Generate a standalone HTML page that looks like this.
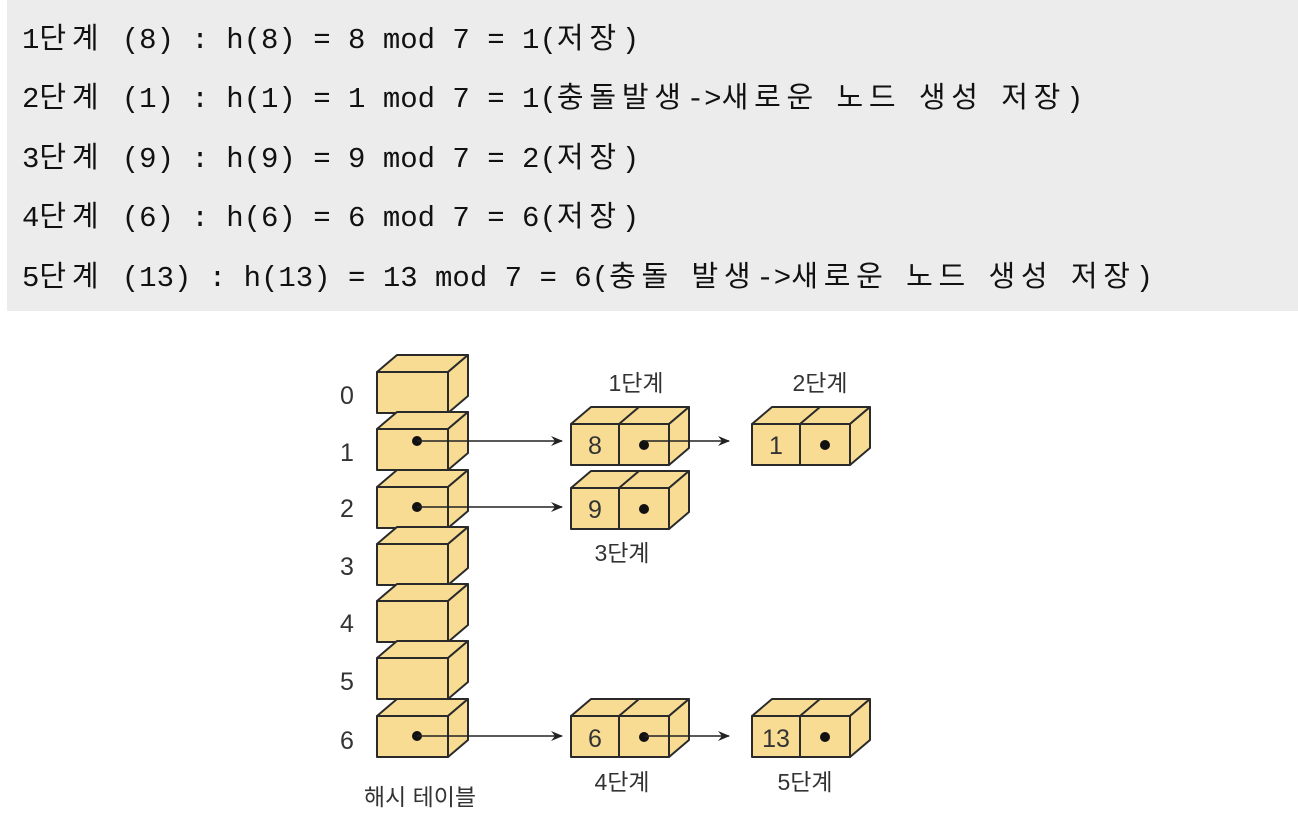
<!DOCTYPE html>
<html><head><meta charset="utf-8"><style>
body{margin:0;width:1298px;height:824px;background:#fff;overflow:hidden;position:relative}
.bg{position:absolute;left:7px;top:0;width:1291px;height:311px;background:#ececec}
.ln{position:absolute;left:22px;font-family:"Liberation Mono","Noto Sans CJK KR",monospace;font-size:29px;color:#111;white-space:pre;line-height:1}
.k{letter-spacing:5.8px;font-family:"Noto Sans CJK KR",sans-serif}
svg{position:absolute;left:0;top:0}
</style></head><body>
<div class="bg"></div>
<div class="ln" style="top:22px">1<span class="k">단계</span> (8) : h(8) = 8 mod 7 = 1(<span class="k">저장</span>)</div>
<div class="ln" style="top:81px">2<span class="k">단계</span> (1) : h(1) = 1 mod 7 = 1(<span class="k">충돌발생</span>-><span class="k">새로운</span> <span class="k">노드</span> <span class="k">생성</span> <span class="k">저장</span>)</div>
<div class="ln" style="top:141px">3<span class="k">단계</span> (9) : h(9) = 9 mod 7 = 2(<span class="k">저장</span>)</div>
<div class="ln" style="top:200px">4<span class="k">단계</span> (6) : h(6) = 6 mod 7 = 6(<span class="k">저장</span>)</div>
<div class="ln" style="top:260px">5<span class="k">단계</span> (13) : h(13) = 13 mod 7 = 6(<span class="k">충돌</span> <span class="k">발생</span>-><span class="k">새로운</span> <span class="k">노드</span> <span class="k">생성</span> <span class="k">저장</span>)</div>
<svg width="1298" height="824" viewBox="0 0 1298 824" font-family="'Liberation Sans','Noto Sans CJK KR',sans-serif">
<defs>
<g id="tc" stroke="#2a2a2a" stroke-width="2" fill="#f8dc94" stroke-linejoin="round">
<polygon points="0,0 20,-17 91,-17 71,0"/>
<polygon points="71,0 91,-17 91,24 71,41"/>
<rect x="0" y="0" width="71" height="41"/>
</g>
<g id="nd" stroke="#2a2a2a" stroke-width="2" fill="#f8dc94" stroke-linejoin="round">
<polygon points="0,0 20,-17 118,-17 98,0"/>
<line x1="48" y1="0" x2="68" y2="-17"/>
<polygon points="98,0 118,-17 118,24 98,41"/>
<rect x="0" y="0" width="98" height="41"/>
<line x1="48" y1="0" x2="48" y2="41"/>
<circle cx="73" cy="21" r="5" fill="#111" stroke="none"/>
</g>
<marker id="ar" viewBox="0 0 12 10" refX="11" refY="5" markerWidth="12" markerHeight="10" markerUnits="userSpaceOnUse" orient="auto"><path d="M0,0 L12,5 L0,10 L4,5 Z" fill="#222"/></marker>
</defs>
<use href="#tc" x="377" y="372"/>
<use href="#tc" x="377" y="429"/>
<use href="#tc" x="377" y="487"/>
<use href="#tc" x="377" y="544"/>
<use href="#tc" x="377" y="601"/>
<use href="#tc" x="377" y="658"/>
<use href="#tc" x="377" y="716"/>
<g fill="#111"><circle cx="417" cy="441" r="5"/><circle cx="417" cy="507" r="5"/><circle cx="417" cy="736" r="5"/></g>
<use href="#nd" x="571" y="424"/>
<use href="#nd" x="752" y="424"/>
<use href="#nd" x="571" y="488"/>
<use href="#nd" x="571" y="716"/>
<use href="#nd" x="752" y="716"/>
<g stroke="#222" stroke-width="1.5" marker-end="url(#ar)">
<line x1="417" y1="441" x2="562" y2="441"/>
<line x1="417" y1="507" x2="562" y2="507"/>
<line x1="417" y1="736" x2="562" y2="736"/>
<line x1="644" y1="441" x2="729" y2="441"/>
<line x1="644" y1="736" x2="729" y2="736"/>
</g>
<g font-size="25" fill="#333" text-anchor="middle">
<text x="347" y="404">0</text><text x="347" y="461">1</text><text x="347" y="517">2</text>
<text x="347" y="575">3</text><text x="347" y="632">4</text><text x="347" y="690">5</text><text x="347" y="749">6</text>
<text x="595" y="454">8</text><text x="776" y="454">1</text><text x="595" y="518">9</text>
<text x="595" y="747">6</text><text x="776" y="747">13</text>
</g>
<g font-size="23" fill="#333" text-anchor="middle">
<text x="636" y="391">1단계</text><text x="820" y="391">2단계</text>
<text x="622" y="561">3단계</text><text x="622" y="790">4단계</text><text x="805" y="790">5단계</text>
<text x="420" y="805">해시 테이블</text>
</g>
</svg>
</body></html>
